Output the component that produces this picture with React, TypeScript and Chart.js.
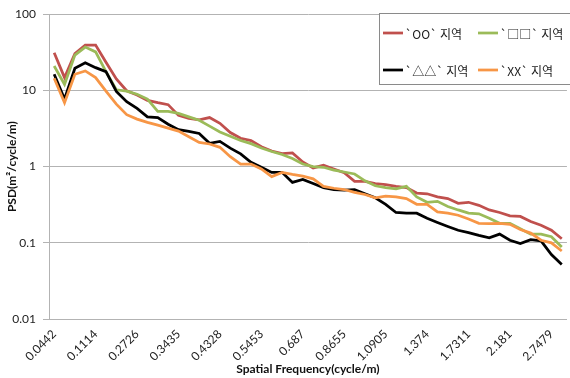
import React, { useEffect, useRef } from 'react';
import { Chart, registerables } from 'chart.js';

Chart.register(...registerables);

// Visible category labels (Excel shows every 4th category)
const tickLabels = ['0.0442', '0.1114', '0.2726', '0.3435', '0.4328', '0.5453', '0.687', '0.8655', '1.0905', '1.374', '1.7311', '2.181', '2.7479'];
const labelInterval = 4;

const seriesNames = ['`OO` 지역', '`□□` 지역', '`△△` 지역', '`XX` 지역'];
const seriesColors = ['#C0504D', '#9BBB59', '#000000', '#F79646'];

const ooValues = [31.2, 14.7, 30.3, 39.4, 39.4, 23.4, 14.1, 9.9, 8.7, 7.4,
  6.9, 6.5, 4.7, 4.3, 4.1, 4.4, 3.7, 2.8, 2.35, 2.19,
  1.82, 1.6, 1.48, 1.51, 1.15, 0.96, 1.04, 0.93, 0.83, 0.64,
  0.64, 0.6, 0.58, 0.55, 0.53, 0.45, 0.44, 0.4, 0.38, 0.33,
  0.34, 0.31, 0.27, 0.25, 0.226, 0.222, 0.19, 0.17, 0.146, 0.113];

const squareValues = [20.9, 12, 29, 37, 32, 17.6, 10.2, 9.8, 8.9, 7.7,
  5.3, 5.3, 5.0, 4.5, 4.05, 3.4, 2.85, 2.5, 2.2, 2.0,
  1.75, 1.58, 1.44, 1.28, 1.08, 1.0, 0.98, 0.9, 0.85, 0.8,
  0.65, 0.56, 0.53, 0.51, 0.55, 0.4, 0.34, 0.35, 0.3, 0.27,
  0.245, 0.24, 0.21, 0.18, 0.18, 0.153, 0.13, 0.13, 0.12, 0.088];

const triangleValues = [16.3, 7.7, 19.5, 23.1, 19.9, 17.6, 9.7, 7.1, 5.8, 4.5,
  4.4, 3.6, 3.05, 2.9, 2.72, 2.02, 2.14, 1.75, 1.47, 1.14,
  0.98, 0.84, 0.84, 0.62, 0.68, 0.6, 0.53, 0.5, 0.49, 0.5,
  0.44, 0.39, 0.32, 0.25, 0.245, 0.245, 0.21, 0.185, 0.164, 0.146,
  0.136, 0.125, 0.116, 0.13, 0.108, 0.098, 0.11, 0.106, 0.07, 0.052];

const xxValues = [14.4, 6.9, 16.3, 18, 14.7, 9.8, 6.6, 4.8, 4.2, 3.8,
  3.5, 3.2, 2.92, 2.47, 2.08, 1.98, 1.79, 1.35, 1.08, 1.08,
  0.93, 0.74, 0.84, 0.79, 0.75, 0.69, 0.55, 0.52, 0.5, 0.46,
  0.43, 0.39, 0.41, 0.4, 0.38, 0.32, 0.32, 0.255, 0.245, 0.23,
  0.205, 0.18, 0.178, 0.18, 0.175, 0.149, 0.134, 0.108, 0.1, 0.078];

const yTickValues = [0.01, 0.1, 1, 10, 100];

const FONT = "Lato, 'Noto Sans CJK KR', 'Noto Sans', sans-serif";
const LEGEND_FONT = "'Noto Sans CJK KR', sans-serif";

const categories = ooValues.map((_, i) => (i % labelInterval === 0 ? tickLabels[i / labelInterval] ?? '' : ''));

const legendPlugin = {
  id: 'boxLegend',
  afterDraw(chart: any) {
    const ctx = chart.ctx as CanvasRenderingContext2D;
    ctx.save();
    const bx = 379.5, by = 13.5, bw = 200, bh = 71;
    ctx.fillStyle = '#ffffff';
    ctx.fillRect(bx, by, bw, bh);
    ctx.strokeStyle = '#8a8a8a';
    ctx.lineWidth = 1;
    ctx.strokeRect(bx, by, bw, bh);
    const pos = [[383, 33], [478, 33], [383, 70], [478, 70]];
    ctx.font = `12px ${LEGEND_FONT}`;
    ctx.textBaseline = 'middle';
    ctx.textAlign = 'left';
    seriesNames.forEach((name, i) => {
      const [x, y] = pos[i];
      ctx.strokeStyle = seriesColors[i];
      ctx.lineWidth = 2.75;
      ctx.beginPath();
      ctx.moveTo(x, y);
      ctx.lineTo(x + 20, y);
      ctx.stroke();
      ctx.fillStyle = '#1a1a1a';
      ctx.fillText(name, x + 22, y + 1);
    });
    ctx.restore();
  },
};

export default function App() {
  const canvasRef = useRef<HTMLCanvasElement | null>(null);

  useEffect(() => {
    const canvas = canvasRef.current;
    if (!canvas) return;
    const seriesValues = [ooValues, squareValues, triangleValues, xxValues];
    const chart = new Chart(canvas, {
      type: 'line',
      data: {
        labels: categories,
        datasets: seriesValues.map((vals, i) => ({
          label: seriesNames[i],
          data: vals,
          borderColor: seriesColors[i],
          backgroundColor: seriesColors[i],
          borderWidth: 2.75,
          pointRadius: 0,
          tension: 0,
          fill: false,
          order: 3 - i,
        })),
      },
      options: {
        responsive: false,
        animation: false,
        devicePixelRatio: 1,
        layout: { padding: { top: 13, right: 6, left: 0, bottom: 0 } },
        plugins: {
          legend: { display: false },
          tooltip: { enabled: false },
        },
        scales: {
          x: {
            type: 'category',
            offset: true,
            grid: { display: false, drawTicks: false },
            border: { display: true, color: '#b3b3b3' },
            ticks: {
              autoSkip: false,
              maxRotation: 45,
              minRotation: 45,
              padding: 8,
              color: '#222',
              font: { family: FONT, size: 12 },
              callback: (_v: any, i: number) => categories[i],
            },
            title: {
              display: true,
              text: 'Spatial Frequency(cycle/m)',
              color: '#111',
              font: { family: FONT, size: 12, weight: 'bold' },
              padding: { top: 0, bottom: 2 },
            },
            afterFit: (scale: any) => { scale.height = 59; },
          },
          y: {
            type: 'logarithmic',
            min: 0.01,
            max: 100,
            grid: { color: '#b3b3b3', lineWidth: 1, tickLength: 6, drawTicks: true },
            border: { display: true, color: '#b3b3b3' },
            afterBuildTicks: (scale: any) => {
              scale.ticks = yTickValues.map((v) => ({ value: v }));
            },
            ticks: {
              padding: 7,
              color: '#222',
              font: { family: FONT, size: 12 },
              callback: (v: any) => String(Number(v)),
            },
            title: {
              display: true,
              text: 'PSD(m²/cycle/m)',
              color: '#111',
              font: { family: FONT, size: 12, weight: 'bold' },
              padding: { top: 5, bottom: 0 },
            },
            afterFit: (scale: any) => { scale.width = 49; },
          },
        },
      },
      plugins: [legendPlugin],
    });
    return () => chart.destroy();
  }, []);

  return (
    <div style={{ position: 'absolute', left: 0, top: 0, width: 570, height: 378, overflow: 'hidden', background: '#fff' }}>
      <canvas ref={canvasRef} width={580} height={378} style={{ width: 580, height: 378, display: 'block' }} />
    </div>
  );
}
